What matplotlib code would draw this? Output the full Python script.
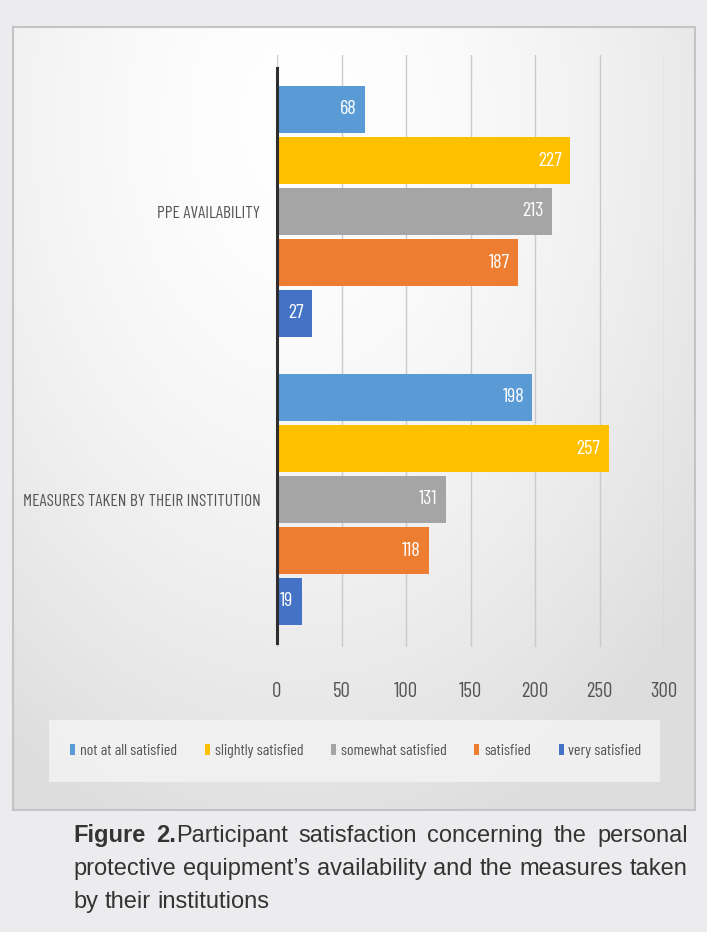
import numpy as np
import matplotlib
matplotlib.use("Agg")
import matplotlib.pyplot as plt
from matplotlib.patches import Rectangle

# ---------------- data ----------------
groups = ["PPE AVAILABILITY", "MEASURES TAKEN BY THEIR INSTITUTION"]
series = ["not at all satisfied", "slightly satisfied", "somewhat satisfied",
          "satisfied", "very satisfied"]
ppe_values = [68, 227, 213, 187, 27]
measures_values = [198, 257, 131, 118, 19]
colors = ["#5b9bd5", "#ffc000", "#a5a5a5", "#ed7d31", "#4472c4"]
xticks = [0, 50, 100, 150, 200, 250, 300]

caption_lines = [
    [[("Figure", "bold")], [("2.", "bold"), ("Participant", "normal")],
     [("satisfaction", "normal")], [("concerning", "normal")],
     [("the", "normal")], [("personal", "normal")]],
    [[(w, "normal")] for w in "protective equipment\u2019s availability and the measures taken".split()],
    [[(w, "normal")] for w in "by their institutions".split()],
]

# ---------------- figure ----------------
W, H = 707, 932
fig = plt.figure(figsize=(W / 100, H / 100), dpi=100)
fig.patch.set_facecolor("#ececee")

def fx(px):
    return px / W

def fy(py):
    return 1 - py / H

CF = ["Barlow Condensed", "DejaVu Sans"]
TXT = "#555555"

# panel with soft gradient
p_l, p_r, p_t, p_b = 13, 695, 27, 810
bg = fig.add_axes([fx(p_l), fy(p_b), fx(p_r - p_l), (p_b - p_t) / H], zorder=0)
yy, xx = np.mgrid[0:1:300j, 0:1:300j]
d = np.sqrt(((xx - 0.42) / 0.75) ** 2 + ((yy - 0.12) / 0.95) ** 2)
g = 1.0 - 0.13 * np.clip(d, 0, 1) ** 1.6
img = np.dstack([g, g, g])
bg.imshow(img, extent=[0, 1, 1, 0], aspect="auto", interpolation="bilinear")
bg.set_xlim(0, 1)
bg.set_ylim(1, 0)
bg.set_xticks([])
bg.set_yticks([])
for s in bg.spines.values():
    s.set_color("#c4c4c6")
    s.set_linewidth(1.5)

# legend box
fig.patches.append(Rectangle((fx(49), fy(782)), fx(660 - 49), (782 - 720) / H,
                             transform=fig.transFigure, facecolor="#f3f3f3",
                             edgecolor="none", alpha=0.85, zorder=1))

# main axes
a_l, a_r, a_t, a_b = 277, 664, 55, 647
ax = fig.add_axes([fx(a_l), fy(a_b), fx(a_r - a_l), (a_b - a_t) / H], zorder=2)
ax.patch.set_alpha(0)
slot = 51.0
ax.set_ylim((a_b - a_t) / slot, 0)
ax.set_xlim(0, 300)

centers = [(211.5 - a_t) / slot, (499.5 - a_t) / slot]
offsets = np.arange(len(series)) - 2
bar_h = 0.93
all_vals = np.array([ppe_values, measures_values])
containers = []
for i, name in enumerate(series):
    ys = [c + offsets[i] for c in centers]
    vals = all_vals[:, i]
    cont = ax.barh(ys, vals, height=bar_h, color=colors[i], label=name, zorder=3)
    containers.append(cont)
    for yv, v in zip(ys, vals):
        ax.annotate(str(v), xy=(v, yv), xytext=(-6, 0), textcoords="offset points",
                    ha="right", va="center", color="white", fontsize=14.5,
                    family=CF, zorder=4, clip_on=True)

ax.set_xticks(xticks)
ax.set_xticklabels([str(t) for t in xticks], family=CF, fontsize=15, color=TXT)
ax.tick_params(axis="x", length=0, pad=25)
ax.set_yticks(centers)
ax.set_yticklabels(groups, family=CF, fontsize=12.5, color=TXT)
ax.tick_params(axis="y", length=0, pad=12)
ax.grid(axis="x", color="#cacaca", linewidth=1.0, zorder=0)
ax.set_axisbelow(True)
for k in ["top", "right", "bottom"]:
    ax.spines[k].set_visible(False)
ax.spines["left"].set_color("#2e2e2e")
ax.spines["left"].set_linewidth(2.2)
ax.spines["left"].set_bounds((643 - a_t) / slot, (68 - a_t) / slot)
ax.spines["left"].set_zorder(5)

leg = ax.legend(handles=containers, labels=series, ncol=5, frameon=False,
                loc="center", bbox_to_anchor=(fx(356), fy(751)),
                bbox_transform=fig.transFigure,
                prop={"family": CF, "size": 11.5}, labelcolor=TXT,
                handlelength=0.3, handleheight=0.75, handletextpad=0.3,
                columnspacing=1.75, borderaxespad=0)

# caption, justified lines
renderer = fig.canvas.get_renderer()
CAP = dict(fontsize=17, family=["Liberation Sans", "DejaVu Sans"], color="#333333",
           va="baseline", ha="left")

def width_of(s, wt):
    t = fig.text(0, 0, s, fontweight=wt, **CAP)
    w = t.get_window_extent(renderer).width
    t.remove()
    return w

space_w = width_of("a a", "normal") - width_of("aa", "normal")

def place_line(words, y_px, x0, x1, justify):
    items = []
    total = 0
    for word in words:
        parts = []
        for s, wt in word:
            t = fig.text(0, 0, s, fontweight=wt, **CAP)
            w = t.get_window_extent(renderer).width
            parts.append((t, w))
            total += w
        items.append(parts)
    gap = (x1 - x0 - total) / (len(words) - 1) if justify else space_w
    x = x0
    for parts in items:
        for t, w in parts:
            t.set_position((fx(x), fy(y_px)))
            x += w
        x += gap

base = [842, 875, 908]
for i, words in enumerate(caption_lines):
    place_line(words, base[i], 73, 688, justify=(i < 2))

fig.savefig("out.png", dpi=100, facecolor=fig.get_facecolor())
